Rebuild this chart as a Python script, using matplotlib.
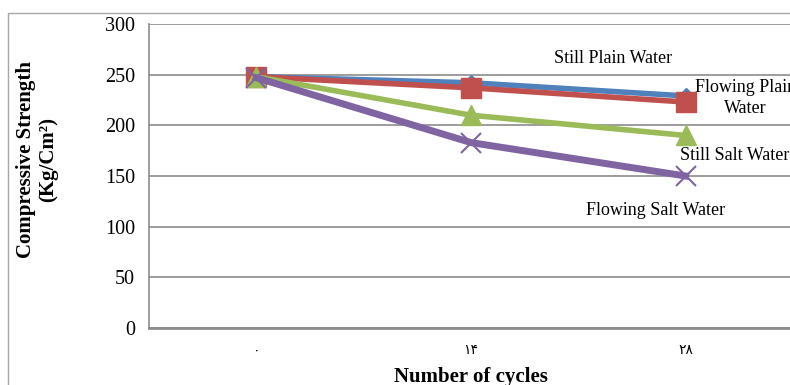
import matplotlib
matplotlib.use("Agg")
import matplotlib.pyplot as plt
from matplotlib.patches import Rectangle

plt.rcParams['font.family'] = ['Liberation Serif', 'DejaVu Sans']

# data
cycles = ['۰', '۱۴', '۲۸']
still_plain = [248, 242, 229]
flowing_plain = [248, 237, 223]
still_salt = [248, 210, 190]
flowing_salt = [247, 183, 150]

fig = plt.figure(figsize=(7.9, 3.85), dpi=100)
ax = fig.add_axes([0.1886, 0.148, 0.815, 0.7897])

# outer chart frame
fig.patches.append(Rectangle((8/790, -0.2), 1.2, 1.2 - 13/385, transform=fig.transFigure,
                             fill=False, edgecolor='#a6a6a6', lw=1.0))

x = range(len(cycles))
ax.plot(x, still_plain, color='#4F81BD', lw=4, marker='D', ms=8, zorder=3)
ax.plot(x, flowing_plain, color='#C0504D', lw=4, marker='s', ms=14, zorder=4)
ax.plot(x, still_salt, color='#9BBB59', lw=4, marker='^', ms=15, zorder=5)
ax.plot(x, flowing_salt, color='#8064A2', lw=5, marker='x', ms=15, mew=1.5, zorder=6)

ax.set_xlim(-0.5, 2.5)
ax.set_ylim(0, 300)
ax.set_yticks(range(0, 301, 50))
ax.set_xticks(list(x))
ax.set_xticklabels(cycles, fontsize=10,
                   family=['DejaVu Sans', 'Liberation Serif'])
ax.tick_params(axis='both', length=0)
ax.tick_params(axis='y', labelsize=14.5, pad=10)
ax.tick_params(axis='x', pad=11)

ax.grid(axis='y', color='#8c8c8c', lw=1.2)
ax.set_axisbelow(True)
for s in ['top', 'right']:
    ax.spines[s].set_visible(False)
ax.spines['left'].set_color('#8c8c8c')
ax.spines['left'].set_linewidth(1.2)
ax.spines['bottom'].set_color('#8c8c8c')
ax.spines['bottom'].set_linewidth(2)

# two-line y label, placed by hand like the original
fig.text(26/790, 1 - 160/385, 'Compressive Strength', rotation=90, fontweight='bold',
         fontsize=15, ha='center', va='center')
fig.text(48/790, 1 - 160/385, '(Kg/Cm²)', rotation=90, fontweight='bold',
         fontsize=15, ha='center', va='center')
ax.set_xlabel('Number of cycles', fontweight='bold', fontsize=15, labelpad=7)

ax.text(1.66, 266, 'Still Plain Water', fontsize=13, ha='center', va='center')
ax.text(2.28, 227, 'Flowing Plain\nWater', fontsize=13, ha='center', va='center',
        linespacing=1.3, clip_on=False)
ax.text(2.23, 170, 'Still Salt Water', fontsize=13, ha='center', va='center')
ax.text(1.86, 116, 'Flowing Salt Water', fontsize=13, ha='center', va='center')

fig.savefig('out.png', dpi=100)
